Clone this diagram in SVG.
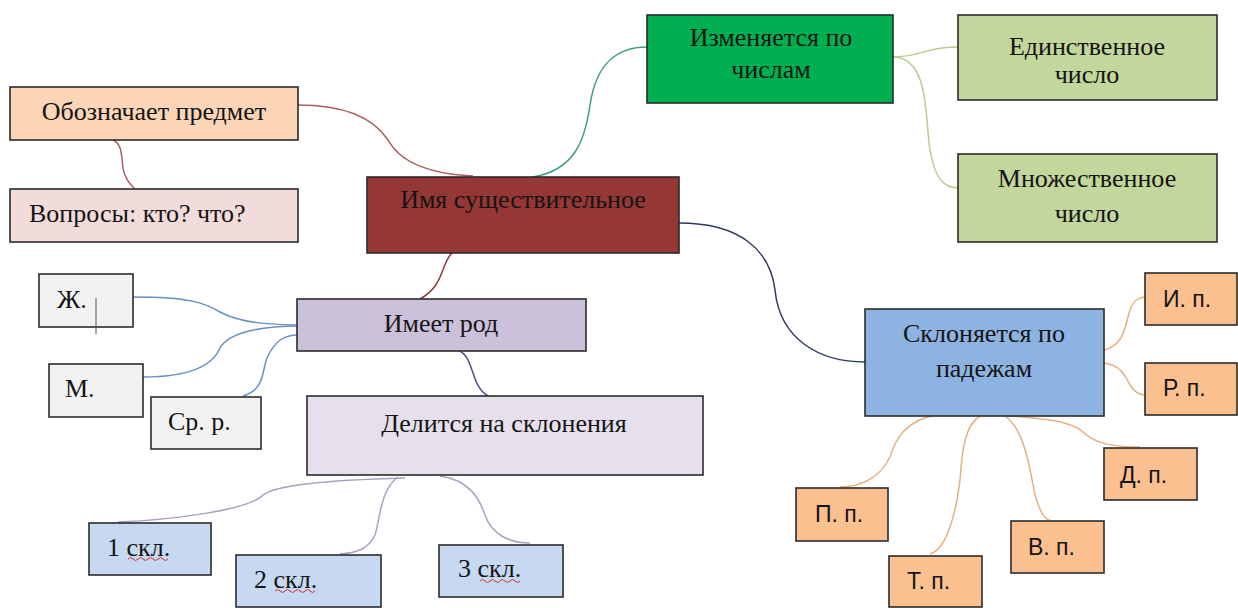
<svg xmlns="http://www.w3.org/2000/svg" width="1238" height="608" viewBox="0 0 1238 608">
<style>
.box{stroke:#2b2b2b;stroke-width:1.6}
.t{font-family:'Liberation Serif','DejaVu Serif',serif;font-size:26px;fill:#141414}
.s{font-family:'Liberation Sans',Arial,sans-serif;font-size:23px;fill:#141414}
.c{fill:none;stroke-width:1.5}
.m{text-anchor:middle}
.wave{fill:none;stroke:#d03030;stroke-width:1}
</style>
<rect width="1238" height="608" fill="#ffffff"/>
<g id="connectors">
<path class="c" stroke="#a86060" d="M298,105 C350,105 375,120 388,140 C400,162 430,174 473,176"/>
<path class="c" stroke="#a86060" d="M113,140 C125,145 120,165 125,175 C128,183 132,186 135,189"/>
<path class="c" stroke="#3f9d72" d="M533,177 C575,170 585,140 590,105 C596,65 615,47 647,47"/>
<path class="c" stroke="#b9cd8e" d="M893,57 C920,57 925,47 958,47"/>
<path class="c" stroke="#b9cd8e" d="M893,57 C930,57 925,120 930,150 C935,180 945,188 958,188"/>
<path class="c" stroke="#2c3a5c" d="M679,223 C740,223 770,250 775,290 C780,340 820,362 865,362"/>
<path class="c" stroke="#8a3a3a" d="M452,253 C440,265 445,285 420,299"/>
<path class="c" stroke="#5a4a88" d="M460,351 C475,360 470,385 488,396"/>
<path class="c" stroke="#6b90c0" d="M133,297 C190,297 205,303 220,312 C240,323 270,325 307,325"/>
<path class="c" stroke="#6b90c0" d="M143,377 C200,377 215,360 220,348 C230,330 270,326 298,326"/>
<path class="c" stroke="#6b90c0" d="M243,396 C265,390 262,370 267,358 C275,340 285,335 298,335"/>
<path class="c" stroke="#aaa0bf" d="M405,478 C330,480 275,485 263,495 C250,510 170,520 118,522"/>
<path class="c" stroke="#aaa0bf" d="M398,477 C380,490 380,520 375,535 C368,550 355,553 340,554"/>
<path class="c" stroke="#aaa0bf" d="M440,476 C470,480 480,500 485,515 C492,535 510,543 530,543"/>
<path class="c" stroke="#e3b07e" d="M1104,350 C1125,345 1125,325 1130,310 C1133,300 1140,297 1145,297"/>
<path class="c" stroke="#e3b07e" d="M1104,363 C1120,365 1125,375 1130,385 C1135,393 1140,395 1145,395"/>
<path class="c" stroke="#e3b07e" d="M997,415 C1040,418 1070,420 1083,432 C1095,443 1110,447 1140,447"/>
<path class="c" stroke="#e3b07e" d="M937,415 C905,420 895,440 890,457 C880,478 860,487 840,487"/>
<path class="c" stroke="#e3b07e" d="M980,416 C965,425 962,450 960,480 C955,520 945,550 930,554"/>
<path class="c" stroke="#e3b07e" d="M1005,416 C1025,430 1030,470 1035,495 C1040,512 1045,520 1050,520"/>
</g>
<g id="n-oboznachaet"><rect class="box" x="10" y="87" width="288" height="53" fill="#fbd5b5"/><text class="t m" x="154" y="120">Обозначает предмет</text></g>
<g id="n-voprosy"><rect class="box" x="10" y="189" width="288" height="53" fill="#f2dcdb"/><text class="t" x="29" y="222">Вопросы: кто? что?</text></g>
<g id="n-imya"><rect class="box" x="367" y="177" width="312" height="76" fill="#953735"/><text class="t m" x="523" y="208" fill="#1a0606">Имя существительное</text></g>
<g id="n-izmenyaetsya"><rect class="box" x="647" y="15" width="246" height="88" fill="#00b050"/><text class="t m" x="771" y="46">Изменяется по</text><text class="t m" x="771" y="78">числам</text></g>
<g id="n-edinstvennoe"><rect class="box" x="958" y="15" width="259" height="85" fill="#c3d69b"/><text class="t m" x="1087" y="55">Единственное</text><text class="t m" x="1087" y="83">число</text></g>
<g id="n-mnozhestvennoe"><rect class="box" x="958" y="154" width="259" height="88" fill="#c3d69b"/><text class="t m" x="1087" y="187">Множественное</text><text class="t m" x="1087" y="222">число</text></g>
<g id="n-imeet-rod"><rect class="box" x="297" y="299" width="289" height="52" fill="#ccc1da"/><text class="t m" x="441" y="332">Имеет род</text></g>
<g id="n-zh"><rect class="box" x="39" y="274" width="94" height="53" fill="#f2f2f2"/><text class="t" x="57" y="308">Ж.</text><line x1="96" y1="298" x2="96" y2="334" stroke="#555" stroke-width="1"/></g>
<g id="n-m"><rect class="box" x="49" y="364" width="94" height="53" fill="#f2f2f2"/><text class="t" x="65" y="397">М.</text></g>
<g id="n-sr"><rect class="box" x="151" y="397" width="110" height="52" fill="#f2f2f2"/><text class="t" x="168" y="430">Ср. р.</text></g>
<g id="n-delitsya"><rect class="box" x="307" y="396" width="396" height="79" fill="#e5e0ec"/><text class="t m" x="504" y="432">Делится на склонения</text></g>
<g id="n-1skl"><rect class="box" x="89" y="523" width="122" height="52" fill="#c6d9f1"/><text class="t" x="107" y="556">1 скл.</text><path class="wave" d="M128,559 q2.5,-3 5,0 t5,0 t5,0 t5,0 t5,0 t5,0 t5,0 t5,0"/></g>
<g id="n-2skl"><rect class="box" x="236" y="555" width="145" height="52" fill="#c6d9f1"/><text class="t" x="254" y="588">2 скл.</text><path class="wave" d="M275,591 q2.5,-3 5,0 t5,0 t5,0 t5,0 t5,0 t5,0 t5,0 t5,0"/></g>
<g id="n-3skl"><rect class="box" x="439" y="545" width="124" height="52" fill="#c6d9f1"/><text class="t" x="458" y="577">3 скл.</text><path class="wave" d="M480,581 q2.5,-3 5,0 t5,0 t5,0 t5,0 t5,0 t5,0 t5,0 t5,0"/></g>
<g id="n-sklonyaetsya"><rect class="box" x="865" y="309" width="239" height="107" fill="#8db3e2"/><text class="t m" x="984" y="342">Склоняется по</text><text class="t m" x="984" y="377">падежам</text></g>
<g id="n-ip"><rect class="box" x="1145" y="273" width="92" height="52" fill="#fac090"/><text class="s" x="1163" y="307">И. п.</text></g>
<g id="n-rp"><rect class="box" x="1145" y="363" width="92" height="52" fill="#fac090"/><text class="s" x="1163" y="396">Р. п.</text></g>
<g id="n-dp"><rect class="box" x="1104" y="448" width="93" height="52" fill="#fac090"/><text class="s" x="1120" y="483">Д. п.</text></g>
<g id="n-pp"><rect class="box" x="796" y="488" width="92" height="53" fill="#fac090"/><text class="s" x="815" y="522">П. п.</text></g>
<g id="n-vp"><rect class="box" x="1011" y="521" width="93" height="52" fill="#fac090"/><text class="s" x="1028" y="555">В. п.</text></g>
<g id="n-tp"><rect class="box" x="889" y="556" width="93" height="51" fill="#fac090"/><text class="s" x="907" y="589">Т. п.</text></g>
</svg>
